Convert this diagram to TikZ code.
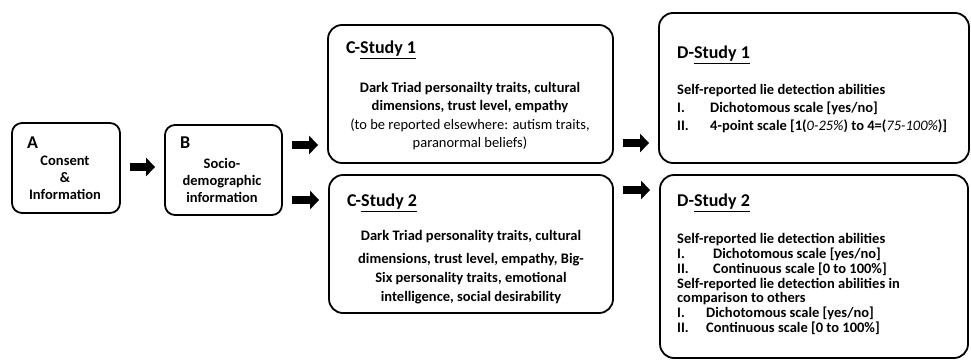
\documentclass[tikz,border=0pt]{standalone}
\usepackage{fontspec}
\setmainfont{Carlito}
\usepackage{tikz}
\usetikzlibrary{arrows.meta, positioning, calc}
\tikzset{
  stagebox/.style={draw=black, line width=1.8pt, rounded corners=14pt, inner sep=0pt},
  smallbox/.style={stagebox, rounded corners=10pt},
  blockarrow/.style={line width=8.5pt, -{Triangle[length=9pt,width=18pt]}, shorten <=9pt, shorten >=9pt},
  headtext/.style={anchor=west, inner sep=0pt, font=\fontsize{18}{20}\selectfont\bfseries},
  bodytext/.style={inner sep=0pt, align=center, font=\fontsize{14.5}{17}\selectfont\bfseries},
  listtext/.style={anchor=west, inner sep=0pt, align=left, font=\fontsize{14.5}{18}\selectfont\bfseries}
}

\begin{document}
\begin{tikzpicture}[x=1pt, y=-1pt]
  \useasboundingbox (0,0) rectangle (971,362);

  % boxes
  \node[smallbox, minimum width=108pt, minimum height=90pt] (consent) at (66,168) {};
  \node[smallbox, minimum width=117pt, minimum height=90pt] (socio) at (223.5,170) {};
  \node[stagebox, minimum width=285pt, minimum height=138pt] (cone) at (470.5,94) {};
  \node[stagebox, minimum width=284pt, minimum height=138pt] (ctwo) at (471,244) {};
  \node[stagebox, minimum width=310pt, minimum height=150pt] (done) at (814,88) {};
  \node[stagebox, minimum width=308pt, minimum height=183pt] (dtwo) at (814,266.5) {};

  % A and B
  \node[headtext] (consenthead) at (27,143) {A};
  \node[bodytext] (consenttext) at (65,178) {Consent\\ \&\\ Information};
  \node[headtext] (sociohead) at (180,143) {B};
  \node[bodytext] (sociotext) at (222,180) {Socio-\\ demographic\\ information};

  % C boxes
  \node[headtext] (conehead) at (346,50) {C-\underline{Study 1}};
  \node[bodytext, font=\fontsize{14.5}{18.3}\selectfont\bfseries] (conetext) at (470,116) {Dark Triad personailty traits, cultural\\
    dimensions, trust level, empathy\\
    \mdseries (to be reported elsewhere: autism traits,\\
    \mdseries paranormal beliefs)};
  \node[headtext] (ctwohead) at (347,203) {C-\underline{Study 2}};
  \node[bodytext, font=\fontsize{14.5}{19}\selectfont\bfseries] (ctwotext) at (471,267) {Dark Triad personality traits, cultural\\[4pt]
    dimensions, trust level, empathy, Big-\\
    Six personality traits, emotional\\
    intelligence, social desirability};

  % D boxes
  \node[headtext] (donehead) at (677,55) {D-\underline{Study 1}};
  \node[listtext] (donetext) at (677,109) {Self-reported lie detection abilities\\
    \makebox[33pt][l]{I.}Dichotomous scale [yes/no]\\
    \makebox[33pt][l]{II.}4-point scale [1(\textit{\mdseries 0-25\%}) to 4=(\textit{\mdseries 75-100\%})]};
  \node[headtext] (dtwohead) at (677,203) {D-\underline{Study 2}};
  \node[listtext, font=\fontsize{14.5}{14.7}\selectfont\bfseries] (dtwotext) at (677,284) {Self-reported lie detection abilities\\
    \makebox[36pt][l]{I.}Dichotomous scale [yes/no]\\
    \makebox[36pt][l]{II.}Continuous scale [0 to 100\%]\\
    Self-reported lie detection abilities in\\
    comparison to others\\
    \makebox[29pt][l]{I.}Dichotomous scale [yes/no]\\
    \makebox[29pt][l]{II.}Continuous scale [0 to 100\%]};

  % arrows
  \draw[blockarrow] ([yshift=1pt]consent.east) -- ([yshift=1pt]consent.east -| socio.west);
  \draw[blockarrow] ([yshift=25pt]socio.east) -- ([yshift=25pt]socio.east -| cone.west);
  \draw[blockarrow] ([yshift=-30pt]socio.east) -- ([yshift=-30pt]socio.east -| ctwo.west);
  \draw[blockarrow] ([yshift=-49pt]cone.east) -- ([yshift=-49pt]cone.east -| done.west);
  \draw[blockarrow] ([yshift=54pt]ctwo.east) -- ([yshift=54pt]ctwo.east -| dtwo.west);
\end{tikzpicture}
\end{document}
